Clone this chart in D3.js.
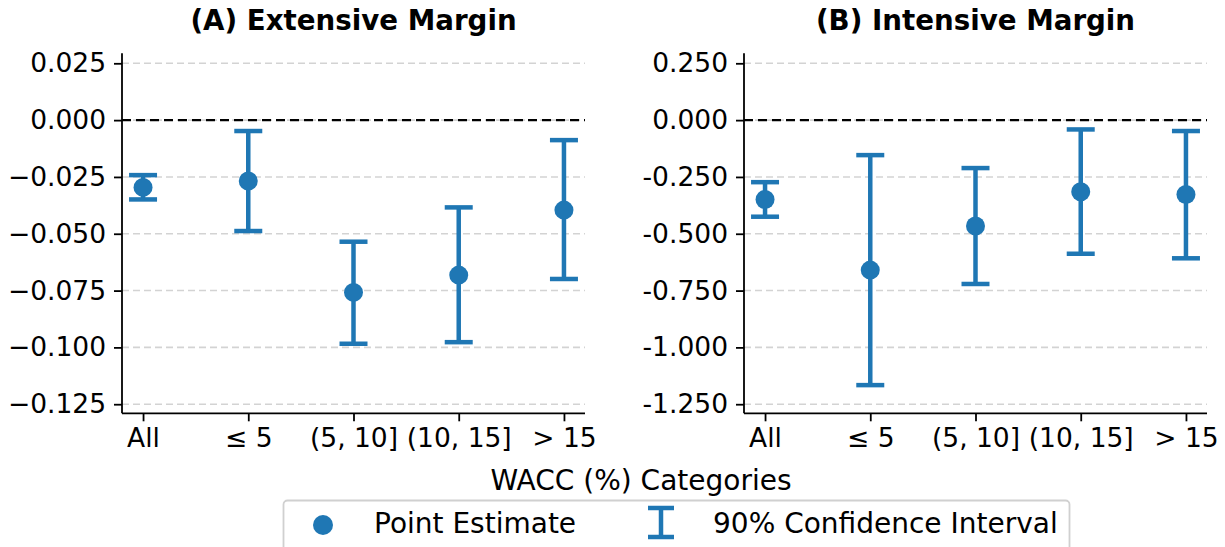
<html>
<head>
	<title>WACC margins</title>
	<style>
		body { margin:0; padding:0; background:#fff; font-family:"DejaVu Sans"; }
		svg { display:block; }
		.grid line { stroke:#d3d3d3; stroke-width:1.6; stroke-dasharray:7,4; }
		.axis path, .axis line { stroke:#000; stroke-width:1.8; }
		.axis text { font-family:"DejaVu Sans"; font-size:26.5px; fill:#000; }
	</style>
</head>
<body>
	<svg width="1225" height="547"></svg>
	<script src="https://d3js.org/d3.v7.min.js"></script>
	<script>

		// categorie WACC
		var categories = ["All", "\u2264 5", "(5, 10]", "(10, 15]", "> 15"];

		// (A) margine estensivo
		var extEst = [-0.0296, -0.0268, -0.0758, -0.0682, -0.0396];
		var extLow = [-0.0349, -0.0488, -0.0984, -0.0977, -0.0699];
		var extHigh = [-0.0242, -0.0048, -0.0535, -0.0384, -0.0088];
		var extTicks = [0.025, 0, -0.025, -0.05, -0.075, -0.1, -0.125];

		// (B) margine intensivo
		var intEst = [-0.349, -0.660, -0.466, -0.315, -0.327];
		var intLow = [-0.425, -1.166, -0.721, -0.588, -0.608];
		var intHigh = [-0.273, -0.154, -0.211, -0.041, -0.048];
		var intTicks = [0.25, 0, -0.25, -0.5, -0.75, -1.0, -1.25];

		var blue = "#1f77b4";
		var svg = d3.select("svg");

		function panel(opts) {
			var x = d3.scaleLinear().domain([-0.2, 4.2]).range([opts.left, opts.left + 463]);
			var y = d3.scaleLinear().domain(opts.domain).range([413.3, 53.3]);
			var g = svg.append("g");

			// griglia
			g.append("g").attr("class", "grid")
			.selectAll("line")
			.data(opts.ticks)
			.enter()
			.append("line")
			.attr("x1", x.range()[0])
			.attr("x2", x.range()[1])
			.attr("y1", function(d){ return y(d) })
			.attr("y2", function(d){ return y(d) })

			// linea dello zero
			g.append("line")
			.attr("x1", x.range()[0])
			.attr("x2", x.range()[1])
			.attr("y1", y(0))
			.attr("y2", y(0))
			.attr("stroke", "#000")
			.attr("stroke-width", 2.4)
			.attr("stroke-dasharray", "9,5")

			var yAxis = d3.axisLeft(y)
			.tickValues(opts.ticks)
			.tickSize(8)
			.tickPadding(8)
			.tickFormat(function(d){
				var s = d3.format(".3f")(Math.abs(d));
				return d < 0 ? opts.minus + s : s;
			})

			g.append("g").attr("class", "axis")
			.attr("transform", "translate(" + x.range()[0] + ",0)")
			.call(yAxis)
			.call(function(a){ a.select(".domain").attr("d", "M0," + y.range()[1] + "V" + y.range()[0]) })

			var xAxis = d3.axisBottom(x)
			.tickValues(d3.range(categories.length))
			.tickSize(8)
			.tickPadding(7)
			.tickFormat(function(d){ return categories[d] })

			g.append("g").attr("class", "axis")
			.attr("transform", "translate(0," + y.range()[0] + ")")
			.call(xAxis)
			.call(function(a){ a.select(".domain").attr("d", "M" + x.range()[0] + ",0H" + x.range()[1]) })

			// intervalli di confidenza
			var bars = g.selectAll(".ci")
			.data(opts.est)
			.enter()
			.append("g")
			.attr("class", "ci")
			.attr("stroke", blue)
			.attr("stroke-width", 4.5)

			bars.append("line")
			.attr("x1", function(d,i){ return x(i) })
			.attr("x2", function(d,i){ return x(i) })
			.attr("y1", function(d,i){ return y(opts.low[i]) })
			.attr("y2", function(d,i){ return y(opts.high[i]) })

			bars.append("line")
			.attr("x1", function(d,i){ return x(i) - 14 })
			.attr("x2", function(d,i){ return x(i) + 14 })
			.attr("y1", function(d,i){ return y(opts.low[i]) })
			.attr("y2", function(d,i){ return y(opts.low[i]) })

			bars.append("line")
			.attr("x1", function(d,i){ return x(i) - 14 })
			.attr("x2", function(d,i){ return x(i) + 14 })
			.attr("y1", function(d,i){ return y(opts.high[i]) })
			.attr("y2", function(d,i){ return y(opts.high[i]) })

			g.selectAll(".pt")
			.data(opts.est)
			.enter()
			.append("circle")
			.attr("class", "pt")
			.attr("cx", function(d,i){ return x(i) })
			.attr("cy", function(d){ return y(d) })
			.attr("r", 9.5)
			.attr("fill", blue)

			g.append("text")
			.attr("x", (x.range()[0] + x.range()[1]) / 2)
			.attr("y", 30)
			.attr("text-anchor", "middle")
			.style("font-weight", "bold")
			.style("font-size", "27.7px")
			.text(opts.title)
		}

		panel({ left:122, domain:[-0.129, 0.0294], ticks:extTicks, est:extEst, low:extLow, high:extHigh, minus:"\u2212", title:"(A) Extensive Margin" });
		panel({ left:744, domain:[-1.290, 0.294], ticks:intTicks, est:intEst, low:intLow, high:intHigh, minus:"-", title:"(B) Intensive Margin" });

		svg.append("text")
		.attr("x", 641)
		.attr("y", 490)
		.attr("text-anchor", "middle")
		.style("font-size", "28px")
		.text("WACC (%) Categories")

		// legenda
		var leg = svg.append("g")
		leg.append("rect")
		.attr("x", 283.5)
		.attr("y", 500.5)
		.attr("width", 786)
		.attr("height", 60)
		.attr("rx", 4)
		.attr("fill", "#fff")
		.attr("stroke", "#d0d0d0")
		.attr("stroke-width", 1.8)

		leg.append("circle").attr("cx", 323).attr("cy", 525).attr("r", 10).attr("fill", blue)
		leg.append("text").attr("x", 374).attr("y", 533).style("font-size", "28px").text("Point Estimate")

		var icon = leg.append("g").attr("stroke", blue).attr("stroke-width", 4.5)
		icon.append("line").attr("x1", 661).attr("x2", 661).attr("y1", 508).attr("y2", 537)
		icon.append("line").attr("x1", 648).attr("x2", 674).attr("y1", 508).attr("y2", 508)
		icon.append("line").attr("x1", 648).attr("x2", 674).attr("y1", 537).attr("y2", 537)
		leg.append("text").attr("x", 713).attr("y", 533).style("font-size", "28px").text("90% Confidence Interval")

	</script>
</body>
</html>
